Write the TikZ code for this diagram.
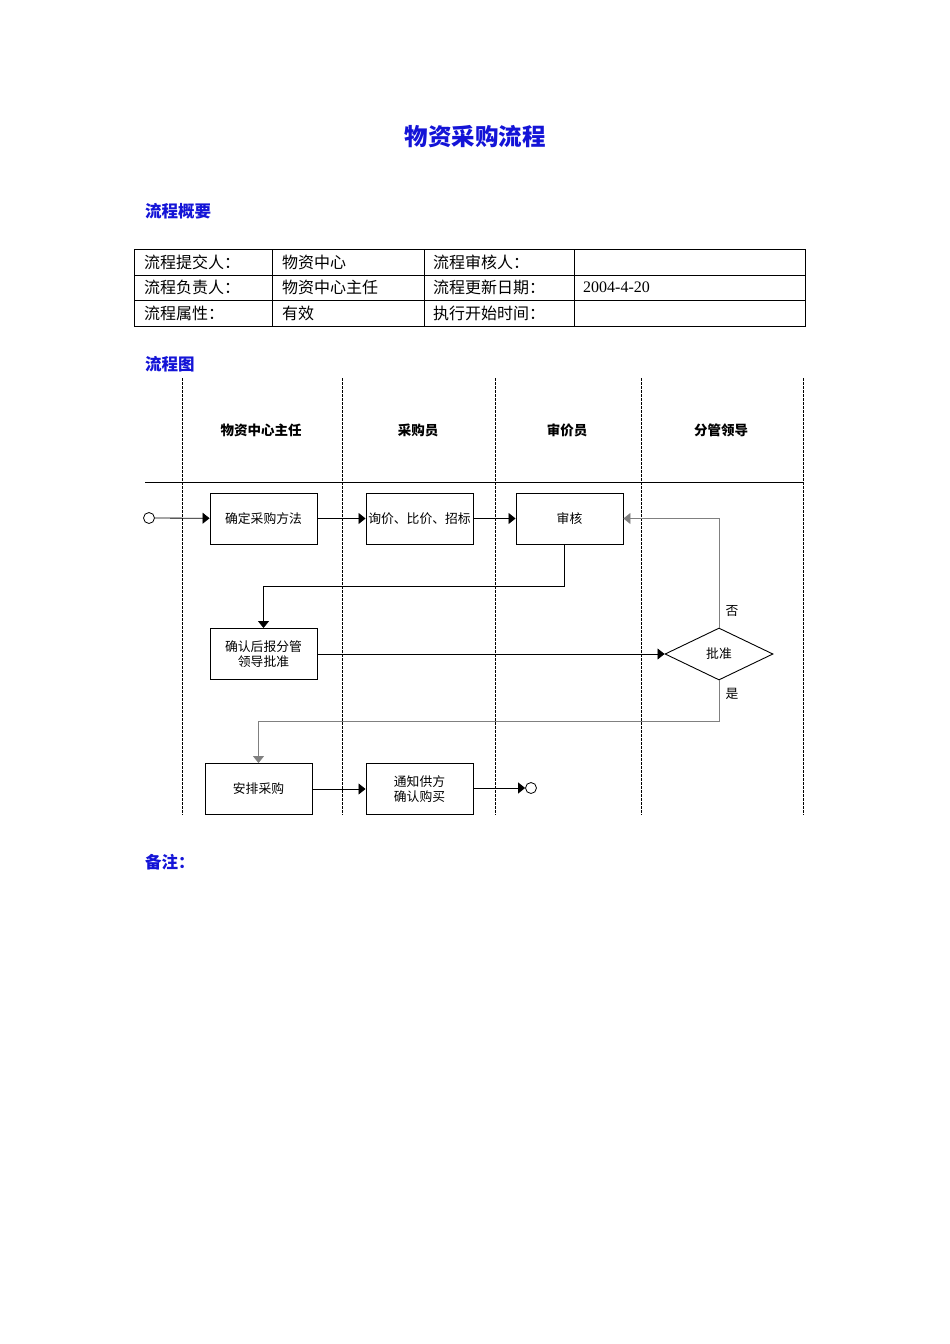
\documentclass[tikz,border=0pt]{standalone}
\usepackage{fontspec}
\setmainfont{Liberation Serif}
\newfontfamily\cjk{Noto Sans CJK SC}
\usetikzlibrary{arrows.meta,shapes.geometric}
\definecolor{titleblue}{RGB}{20,20,215}
\definecolor{linegray}{RGB}{128,128,128}
\begin{document}
\begin{tikzpicture}[x=1pt,y=-1pt,
  proc/.style={draw, line width=0.9pt, minimum width=107pt, minimum height=51pt, inner sep=0pt, font=\cjk\fontsize{12.8}{14.5}\selectfont, align=center},
  dec/.style={draw, diamond, line width=0.9pt, minimum width=108pt, minimum height=52pt, inner sep=0pt, font=\cjk\fontsize{12.8}{15}\selectfont},
  term/.style={draw, circle, line width=0.8pt, minimum size=11pt, inner sep=0pt},
  flow/.style={-{Triangle[length=7pt,width=11pt]}, line width=0.8pt},
  flowgray/.style={-{Triangle[length=7pt,width=11pt]}, line width=0.8pt, draw=linegray, color=linegray},
  lane/.style={dashed, dash pattern=on 2.5pt off 1.5pt, line width=0.7pt},
  head/.style={font=\cjk\bfseries\fontsize{13.5}{16}\selectfont},
  sect/.style={font=\cjk\bfseries\fontsize{16.5}{19}\selectfont, text=titleblue, anchor=west, inner sep=0pt},
  cell/.style={font=\cjk\fontsize{16}{19}\selectfont, anchor=west, inner sep=0pt},
  lbl/.style={font=\cjk\fontsize{12.8}{15}\selectfont, inner sep=0pt}
]
\useasboundingbox (0,0) rectangle (950,1344);
\fill[white] (0,0) rectangle (950,1344);

% title and sections
\node[font=\cjk\bfseries\fontsize{23.5}{28}\selectfont, text=titleblue] (title) at (475,137) {物资采购流程};
\node[sect] (s1) at (145,211) {流程概要};
\node[sect] (s2) at (145,364) {流程图};
\node[sect] (s3) at (145,862) {备注：};

% table
\draw[line width=0.8pt] (134,249) rectangle (805,326);
\draw[line width=0.8pt] (134,275) -- (805,275) (134,300) -- (805,300);
\draw[line width=0.8pt] (272,249) -- (272,326) (424,249) -- (424,326) (574,249) -- (574,326);
\node[cell] (c11) at (144,262) {流程提交人：};
\node[cell] (c12) at (282,262) {物资中心};
\node[cell] (c13) at (433,262) {流程审核人：};
\node[cell] (c21) at (144,287.5) {流程负责人：};
\node[cell] (c22) at (282,287.5) {物资中心主任};
\node[cell] (c23) at (433,287.5) {流程更新日期：};
\node[cell, font=\fontsize{16}{19}\selectfont] (c24) at (583,287.5) {2004-4-20};
\node[cell] (c31) at (144,313) {流程属性：};
\node[cell] (c32) at (282,313) {有效};
\node[cell] (c33) at (433,313) {执行开始时间：};

% lanes
\foreach \x in {182,342,495,641,803} \draw[lane] (\x,378) -- (\x,815);
\draw[line width=0.8pt] (145,482) -- (803,482);
\node[head] (h1) at (261,430) {物资中心主任};
\node[head] (h2) at (418,430) {采购员};
\node[head] (h3) at (567,430) {审价员};
\node[head] (h4) at (721,430) {分管领导};

% nodes
\node[term] (start) at (149,518) {};
\node[proc] (b1) at (263.5,518.5) {确定采购方法};
\node[proc] (b2) at (419.5,518.5) {询价、比价、招标};
\node[proc] (b3) at (569.5,518.5) {审核};
\node[proc] (b4) at (263.5,654) {确认后报分管\\领导批准};
\node[dec] (d1) at (719,654) {批准};
\node[proc] (b5) at (258.5,789) {安排采购};
\node[proc] (b6) at (419.5,789) {通知供方\\确认购买};
\node[term] (end) at (531,788) {};

% connectors
\draw[flow] (start) -- (b1);
\draw[flow] (b1) -- (b2);
\draw[flow] (b2) -- (b3);
\draw[flow] (b3.south -| 564,0) -- (564,586) -- (263.5,586) -- (b4.north);
\draw[flow] (b4) -- (d1);
\draw[flowgray] (d1.north) -- (719,518.5) -- (b3.east);
\draw[flowgray] (d1.south) -- (719,721) -- (258.5,721) -- (b5.north);
\draw[flow] (b5) -- (b6);
\draw[flow] (b6.east |- end) -- (end);
\node[lbl] (no) at (732,611) {否};
\node[lbl] (yes) at (732,694) {是};
\end{tikzpicture}
\end{document}
